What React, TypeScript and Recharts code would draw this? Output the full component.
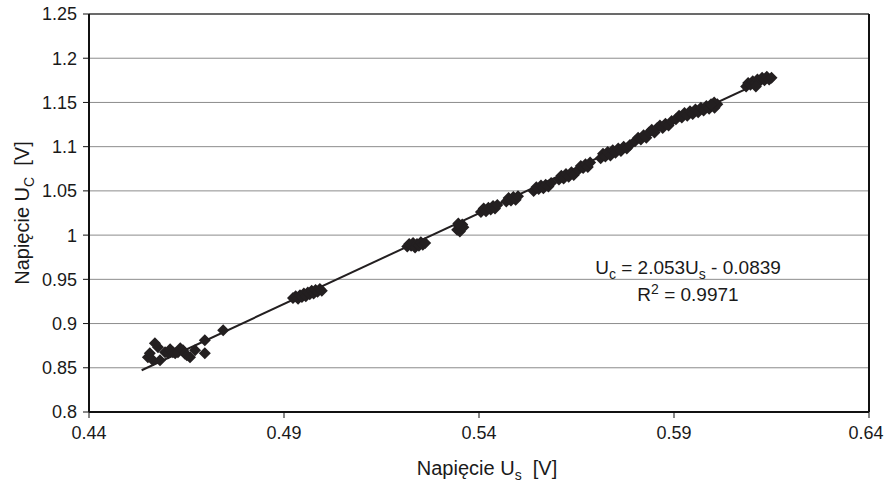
import React from "react";
import {
  ScatterChart,
  Scatter,
  XAxis,
  YAxis,
  CartesianGrid,
  ReferenceLine,
  Label,
} from "recharts";

// measured points, grouped by the clusters seen on the plot: [Us, Uc]
const clusterA = [
  [0.4551, 0.862], [0.4556, 0.8665], [0.4564, 0.8586], [0.4569, 0.8778], [0.4577, 0.8733],
  [0.4582, 0.8586], [0.4595, 0.8676], [0.4603, 0.8665], [0.4608, 0.871], [0.4615, 0.8676],
  [0.4621, 0.8665], [0.4628, 0.8676], [0.4634, 0.872], [0.4641, 0.8699], [0.4646, 0.866],
  [0.4651, 0.8643], [0.4659, 0.862], [0.4672, 0.8699], [0.4697, 0.8812], [0.4697, 0.8665],
  [0.4744, 0.8925],
];
const clusterB = [
  [0.4923, 0.929], [0.493, 0.931], [0.4936, 0.928], [0.4941, 0.932], [0.4946, 0.93],
  [0.4951, 0.934], [0.4956, 0.931], [0.4961, 0.935], [0.4966, 0.933], [0.4971, 0.937],
  [0.4976, 0.934], [0.4981, 0.938], [0.4986, 0.936], [0.4992, 0.939], [0.4997, 0.937],
];
const clusterC = [
  [0.5216, 0.987], [0.5221, 0.99], [0.5226, 0.988], [0.5231, 0.991], [0.5236, 0.986],
  [0.5241, 0.99], [0.5246, 0.988], [0.5251, 0.992], [0.5256, 0.989], [0.5262, 0.991],
];
const clusterD = [
  [0.5344, 1.006], [0.5349, 1.01], [0.5351, 1.004], [0.5354, 1.008], [0.5357, 1.012],
  [0.536, 1.009], [0.5347, 1.013],
];
const clusterE = [
  [0.5405, 1.026], [0.5412, 1.03], [0.5418, 1.027], [0.5424, 1.031], [0.543, 1.029],
  [0.5436, 1.033], [0.5441, 1.03], [0.5447, 1.034],
];
const clusterF = [
  [0.547, 1.038], [0.5476, 1.042], [0.5482, 1.039], [0.5488, 1.043], [0.5494, 1.04],
  [0.55, 1.044],
];
const clusterG = [
  [0.554, 1.05], [0.5547, 1.054], [0.5553, 1.052], [0.5559, 1.056], [0.5565, 1.053],
  [0.5571, 1.057], [0.5578, 1.055], [0.5585, 1.059],
];
const clusterH = [
  [0.5605, 1.063], [0.5611, 1.067], [0.5617, 1.064], [0.5623, 1.069], [0.563, 1.066],
  [0.5637, 1.071], [0.5643, 1.068],
];
const clusterI = [
  [0.5655, 1.074], [0.5661, 1.078], [0.5667, 1.076], [0.5673, 1.08], [0.5679, 1.077],
  [0.5685, 1.082],
];
const bandJ = [
  [0.5712, 1.087], [0.5718, 1.092], [0.5724, 1.089], [0.573, 1.094], [0.5737, 1.09],
  [0.5743, 1.096], [0.575, 1.093], [0.5757, 1.098], [0.5764, 1.095], [0.5771, 1.1],
  [0.5779, 1.098], [0.5787, 1.102], [0.58, 1.106], [0.5808, 1.11], [0.5815, 1.108],
  [0.5822, 1.113], [0.5829, 1.11], [0.5836, 1.116], [0.5843, 1.119], [0.585, 1.116],
  [0.5857, 1.121], [0.5864, 1.124], [0.5871, 1.121], [0.5878, 1.126], [0.5886, 1.124],
  [0.5894, 1.129], [0.5905, 1.131], [0.5913, 1.135], [0.592, 1.133], [0.5927, 1.138],
  [0.5934, 1.135], [0.5941, 1.14], [0.5948, 1.137], [0.5955, 1.142], [0.5962, 1.139],
  [0.5969, 1.144], [0.5976, 1.141], [0.5983, 1.146], [0.599, 1.143], [0.5997, 1.147],
  [0.6004, 1.144], [0.6011, 1.148], [0.6003, 1.15], [0.5995, 1.148],
];
const clusterK = [
  [0.6085, 1.168], [0.609, 1.172], [0.6096, 1.17], [0.6102, 1.174], [0.6108, 1.172],
  [0.6114, 1.176], [0.612, 1.174], [0.6126, 1.178], [0.6132, 1.175], [0.6138, 1.179],
  [0.6144, 1.176], [0.615, 1.178], [0.611, 1.168],
];

// trend line ends (Uc = 2.053Us - 0.0839)
const trendStart = { x: 0.4535, y: 0.8472 };
const trendEnd = { x: 0.615, y: 1.1787 };

const xTicks = [0.44, 0.49, 0.54, 0.59, 0.64];
const yTicks = [0.8, 0.85, 0.9, 0.95, 1, 1.05, 1.1, 1.15, 1.2, 1.25];

const points = [
  ...clusterA, ...clusterB, ...clusterC, ...clusterD, ...clusterE, ...clusterF,
  ...clusterG, ...clusterH, ...clusterI, ...bandJ, ...clusterK,
].map(([us, uc]) => ({ us, uc }));

const FONT = "'Liberation Sans', Arial, sans-serif";
const INK = "#231f20";
const TEXT = "#1a1a1a";

const Diamond = (props: any) => {
  const { cx, cy } = props;
  const r = 6;
  return (
    <polygon
      points={`${cx},${cy - r} ${cx + r},${cy} ${cx},${cy + r} ${cx - r},${cy}`}
      fill={INK}
    />
  );
};

// the last label sits against the page edge, nudge it in a little
const XTick = (props: any) => {
  const { x, y, payload, index } = props;
  const shift = index === xTicks.length - 1 ? -3 : 0;
  return (
    <text x={x + shift} y={y} dy="0.71em" textAnchor="middle" fontSize={18} fill={TEXT} fontFamily={FONT}>
      {payload.value}
    </text>
  );
};

const XTitle = (props: any) => {
  const { x, y, width } = props.viewBox;
  return (
    <text x={x + width / 2 + 8} y={y + 63} textAnchor="middle" fontSize={20} fill={TEXT} style={{ whiteSpace: "pre" }}>
      Napięcie U<tspan dy={5} fontSize={14}>s</tspan>
      <tspan dy={-5}>{"  [V]"}</tspan>
    </text>
  );
};

const YTitle = (props: any) => {
  const { x, y, height } = props.viewBox;
  const cx = x + 29;
  const cy = y + height / 2;
  return (
    <text x={cx} y={cy} textAnchor="middle" fontSize={20} fill={TEXT} transform={`rotate(-90 ${cx} ${cy})`} style={{ whiteSpace: "pre" }}>
      Napięcie U<tspan dy={5} fontSize={14}>C</tspan>
      <tspan dy={-5}>{"  [V]"}</tspan>
    </text>
  );
};

const subStyle: React.CSSProperties = { fontSize: 14, position: "relative", top: 5 };
const supStyle: React.CSSProperties = { fontSize: 14, position: "relative", top: -7 };

export default function App() {
  return (
    <div style={{ position: "absolute", left: 0, top: 0, width: 885, height: 484, background: "#fff", fontFamily: FONT }}>
      <ScatterChart width={885} height={484} margin={{ top: 14, right: 16, bottom: 0, left: 0 }}>
        <CartesianGrid horizontal vertical={false} stroke="#8c8c8c" strokeWidth={1} />
        <XAxis
          type="number"
          dataKey="us"
          domain={[0.44, 0.64]}
          ticks={xTicks}
          height={72}
          tickSize={6}
          tickMargin={8}
          stroke="#111"
          strokeWidth={2}
          tick={<XTick />}
          tickLine={{ stroke: "#111", strokeWidth: 1 }}
          allowDataOverflow
        >
          <Label content={<XTitle />} />
        </XAxis>
        <YAxis
          type="number"
          dataKey="uc"
          domain={[0.8, 1.25]}
          ticks={yTicks}
          width={89}
          tickSize={6}
          tickMargin={6}
          stroke="#111"
          strokeWidth={2}
          tick={{ fill: TEXT, fontSize: 18, fontFamily: FONT }}
          tickLine={{ stroke: "#111", strokeWidth: 1 }}
          allowDataOverflow
        >
          <Label content={<YTitle />} />
        </YAxis>
        <ReferenceLine y={1.25} stroke="#111" strokeWidth={1} />
        <ReferenceLine x={0.64} stroke="#111" strokeWidth={2} />
        <Scatter data={points} shape={<Diamond />} isAnimationActive={false} />
        <ReferenceLine segment={[trendStart, trendEnd]} stroke={INK} strokeWidth={2} />
      </ScatterChart>
      <div
        style={{
          position: "absolute",
          left: 578,
          top: 255,
          width: 220,
          textAlign: "center",
          fontSize: 19,
          lineHeight: "25px",
          color: TEXT,
        }}
      >
        <div>
          U<span style={subStyle}>c</span> = 2.053U<span style={subStyle}>s</span> - 0.0839
        </div>
        <div>
          R<span style={supStyle}>2</span> = 0.9971
        </div>
      </div>
    </div>
  );
}
